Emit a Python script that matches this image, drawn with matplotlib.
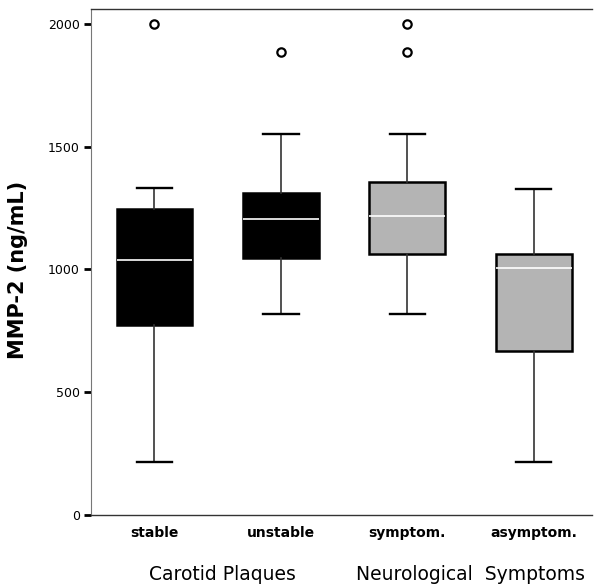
import matplotlib
matplotlib.use("Agg")
import matplotlib.pyplot as plt

# values (ng/mL)
groups = ["stable", "unstable", "symptom.", "asymptom."]
whislo = [215, 820, 820, 215]
q1 = [775, 1045, 1062, 668]
med = [1040, 1205, 1218, 1005]
q3 = [1245, 1310, 1355, 1062]
whishi = [1330, 1550, 1550, 1327]
fliers = [[2000], [1885], [2000, 1885], []]
box_colors = ["black", "black", "#b4b4b4", "#b4b4b4"]
med_colors = ["white", "white", "white", "white"]

yticks = [0, 500, 1000, 1500, 2000]

stats = []
for i in range(len(groups)):
    stats.append(dict(label=groups[i], whislo=whislo[i], q1=q1[i], med=med[i],
                      q3=q3[i], whishi=whishi[i], fliers=fliers[i]))

plt.rcParams["font.family"] = ["DejaVu Sans"]

fig = plt.figure(figsize=(5.94, 5.88), dpi=100)
ax = fig.add_axes([0.153, 0.124, 0.844, 0.861])

bp = ax.bxp(stats, positions=[1, 2, 3, 4], widths=0.6, patch_artist=True,
            showfliers=True,
            boxprops=dict(edgecolor="black", linewidth=1.8),
            whiskerprops=dict(color="#333333", linewidth=1.2),
            capprops=dict(color="black", linewidth=1.7),
            medianprops=dict(linewidth=1.2),
            flierprops=dict(marker="o", markerfacecolor="white",
                            markeredgecolor="black", markersize=6,
                            markeredgewidth=1.6),
            capwidths=0.28)
for patch, c in zip(bp["boxes"], box_colors):
    patch.set_facecolor(c)
for line, c in zip(bp["medians"], med_colors):
    line.set_color(c)

ax.set_xlim(0.497, 4.463)
ax.set_ylim(0, 2061)
ax.set_yticks(yticks)
ax.set_yticklabels([str(t) for t in yticks], fontsize=9)
ax.tick_params(axis="y", length=5, width=2, direction="out", pad=3)
ax.tick_params(axis="x", length=0, pad=8)
ax.set_xticks([1, 2, 3, 4])
ax.set_xticklabels(groups, fontsize=10, fontweight="bold")

for s in ["top", "bottom"]:
    ax.spines[s].set_linestyle((0, (1, 1)))
    ax.spines[s].set_color("#333333")
    ax.spines[s].set_linewidth(1)
ax.spines["left"].set_color("#777777")
ax.spines["left"].set_linewidth(0.8)
ax.spines["right"].set_visible(False)

ax.set_ylabel("MMP-2 (ng/mL)", fontsize=15, fontweight="bold", labelpad=12)
ax.yaxis.set_label_coords(-0.125, 0.485)

ax.text(1.54, -0.118, "Carotid Plaques", transform=ax.get_xaxis_transform(),
        ha="center", va="center", fontsize=13.5, color="black")
ax.text(3.5, -0.118, "Neurological  Symptoms", transform=ax.get_xaxis_transform(),
        ha="center", va="center", fontsize=13.5, color="black")

fig.savefig("out.png", dpi=100)
